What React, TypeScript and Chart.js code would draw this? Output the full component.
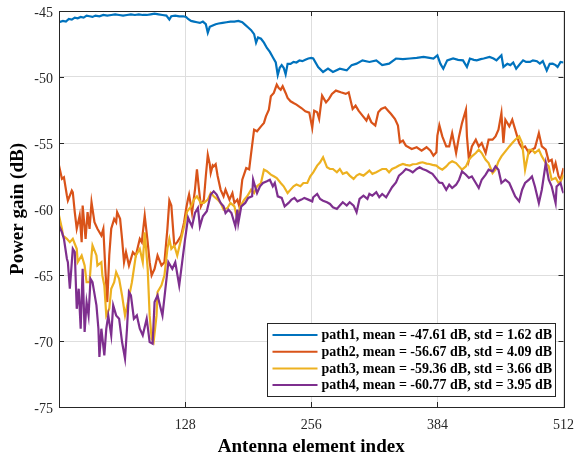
import React, { useEffect, useRef } from "react";
import { Chart, registerables } from "chart.js";

Chart.register(...registerables);

// Antenna element index (x) and measured power gain in dB (y) for each path
const path1Index = [0, 4, 7, 10, 13, 16, 19, 22, 25, 28, 31, 34, 37, 41, 45, 49, 53, 57, 61, 65, 69, 73, 77, 81, 85, 89, 93, 97, 101, 105, 109, 112, 114, 118, 122, 126, 129, 131, 134, 137, 140, 143, 146, 149, 151, 153, 156, 159, 162, 166, 170, 174, 178, 182, 186, 189, 192, 195, 198, 200, 202, 205, 208, 211, 214, 217, 220, 222, 224, 226, 228, 230, 232, 235, 238, 241, 244, 247, 250, 253, 256, 258, 263, 268, 273, 278, 285, 292, 297, 302, 308, 315, 322, 328, 335, 342, 349, 356, 363, 370, 376, 380, 384, 387, 390, 394, 400, 405, 410, 414, 417, 421, 424, 428, 431, 437, 441, 444, 449, 451, 455, 458, 461, 464, 468, 471, 474, 478, 481, 485, 488, 491, 495, 498, 501, 504, 506, 509, 512];
const path1Gain = [-45.85, -45.75, -45.8, -45.6, -45.65, -45.5, -45.55, -45.45, -45.5, -45.35, -45.4, -45.45, -45.35, -45.4, -45.3, -45.35, -45.3, -45.25, -45.3, -45.35, -45.3, -45.25, -45.3, -45.25, -45.3, -45.3, -45.25, -45.2, -45.25, -45.3, -45.35, -45.65, -45.4, -45.35, -45.4, -45.4, -45.45, -45.6, -45.75, -45.8, -45.85, -45.9, -45.8, -46.0, -46.65, -46.2, -46.1, -46.0, -45.95, -45.9, -45.85, -45.8, -45.8, -45.75, -45.85, -46.05, -46.25, -46.45, -46.75, -47.4, -47.0, -47.1, -47.4, -47.8, -48.1, -48.5, -48.9, -49.85, -49.3, -49.1, -49.3, -49.8, -49.0, -49.0, -48.85, -48.9, -48.75, -48.8, -48.7, -48.6, -48.55, -48.6, -49.24, -49.62, -49.37, -49.62, -49.37, -49.5, -49.1, -48.99, -48.74, -48.86, -48.74, -49.1, -48.99, -48.6, -48.65, -48.6, -48.55, -48.48, -48.55, -48.6, -48.36, -48.99, -49.37, -48.74, -48.6, -48.7, -48.74, -49.24, -48.6, -48.7, -48.74, -48.65, -48.6, -48.48, -48.6, -48.74, -48.36, -49.24, -49.0, -49.1, -48.9, -49.37, -49.0, -48.74, -48.86, -48.86, -48.74, -48.8, -48.99, -48.8, -49.5, -49.0, -48.99, -49.1, -49.24, -48.86, -48.9];

const path2Index = [0, 3, 5, 8, 9, 13, 14, 16, 18, 21, 23, 24, 27, 29, 31, 33, 36, 39, 43, 45, 47, 49, 51, 53, 56, 58, 59, 62, 64, 66, 68, 71, 75, 78, 82, 84, 87, 90, 92, 94, 97, 100, 104, 107, 110, 112, 114, 117, 120, 124, 127, 129, 131, 132, 134, 135, 138, 140, 142, 144, 147, 149, 151, 153, 154, 156, 157, 159, 161, 164, 167, 169, 173, 176, 178, 181, 183, 186, 190, 193, 195, 198, 201, 205, 208, 210, 213, 215, 218, 221, 223, 225, 227, 230, 232, 235, 238, 241, 246, 250, 254, 257, 259, 262, 264, 267, 271, 274, 277, 281, 286, 291, 294, 298, 301, 304, 308, 312, 314, 317, 321, 324, 327, 331, 334, 337, 341, 344, 346, 349, 352, 358, 363, 368, 373, 377, 380, 383, 384, 386, 389, 393, 396, 399, 403, 406, 409, 413, 414, 416, 419, 423, 426, 429, 433, 436, 440, 443, 446, 449, 451, 453, 457, 460, 463, 467, 470, 473, 477, 480, 483, 487, 490, 494, 497, 500, 502, 504, 507, 509, 511, 512];
const path2Gain = [-56.71, -57.72, -57.6, -58.98, -59.36, -58.6, -58.73, -60.24, -61.5, -60.5, -62.51, -59.74, -62.26, -60.24, -61.5, -59.49, -61.0, -61.5, -62.01, -61.5, -64.53, -67.05, -63.52, -61.5, -60.75, -61.0, -60.24, -60.75, -62.26, -64.03, -63.27, -64.28, -63.27, -63.52, -62.26, -62.51, -60.5, -62.51, -64.03, -65.03, -64.53, -63.52, -64.28, -64.03, -61.5, -59.36, -59.74, -62.76, -62.51, -62.01, -61.0, -60.0, -59.2, -58.9, -59.8, -60.3, -58.53, -57.0, -58.5, -59.8, -59.3, -57.5, -55.9, -56.6, -57.27, -56.7, -56.77, -56.6, -57.5, -58.53, -59.04, -58.53, -59.3, -58.8, -59.54, -59.29, -59.8, -57.78, -56.9, -57.0, -55.76, -53.99, -54.11, -53.74, -53.48, -52.98, -52.47, -51.46, -51.21, -50.58, -50.83, -50.96, -50.7, -51.21, -51.59, -51.84, -51.97, -52.09, -52.35, -52.6, -52.7, -53.85, -52.55, -52.67, -53.18, -51.41, -51.92, -51.66, -51.28, -51.03, -51.16, -51.28, -51.16, -52.42, -52.17, -52.55, -52.93, -53.3, -52.93, -53.43, -53.68, -52.67, -52.42, -52.29, -52.55, -52.8, -53.18, -53.68, -54.95, -54.82, -55.2, -55.45, -55.32, -55.58, -55.32, -55.58, -55.96, -55.7, -54.44, -53.65, -54.5, -55.26, -55.26, -54.25, -55.76, -54.5, -53.49, -52.48, -54.5, -56.27, -55.26, -54.75, -55.26, -55.0, -55.76, -54.75, -54.75, -54.5, -53.99, -52.73, -55.0, -53.24, -53.74, -53.24, -53.99, -55.0, -55.38, -55.26, -55.76, -55.51, -55.38, -54.25, -55.26, -55.51, -56.39, -56.27, -57.02, -56.52, -57.53, -57.78, -57.2, -56.9];

const path3Index = [0, 3, 4, 8, 11, 14, 18, 19, 23, 26, 28, 31, 33, 34, 38, 39, 43, 44, 46, 48, 51, 53, 56, 58, 61, 64, 67, 70, 74, 76, 78, 82, 85, 87, 90, 92, 94, 96, 99, 100, 104, 107, 110, 112, 114, 117, 120, 124, 127, 130, 134, 137, 140, 144, 147, 151, 154, 157, 161, 164, 167, 171, 174, 178, 181, 184, 188, 191, 195, 198, 201, 205, 208, 211, 215, 218, 221, 225, 228, 232, 235, 238, 241, 245, 248, 252, 255, 258, 262, 265, 268, 272, 275, 278, 282, 285, 288, 292, 295, 299, 302, 305, 309, 313, 315, 318, 322, 325, 328, 332, 335, 338, 342, 345, 349, 352, 356, 359, 363, 366, 369, 373, 376, 379, 383, 386, 389, 393, 396, 399, 403, 406, 409, 413, 416, 419, 423, 426, 429, 433, 436, 440, 443, 446, 449, 453, 457, 460, 463, 467, 470, 473, 477, 480, 483, 487, 490, 494, 497, 500, 504, 507, 509, 511, 512];
const path3Gain = [-60.5, -61.5, -62.01, -62.26, -62.51, -62.26, -63.02, -64.03, -63.52, -64.28, -65.54, -65.54, -63.52, -62.76, -63.52, -64.28, -64.03, -65.03, -65.79, -68.06, -67.56, -66.04, -65.54, -64.78, -65.29, -66.55, -68.06, -67.05, -65.54, -64.53, -63.52, -63.02, -64.03, -61.76, -64.53, -68.06, -69.83, -70.08, -68.06, -66.29, -65.79, -65.03, -63.02, -62.26, -63.02, -62.76, -63.52, -62.26, -61.3, -60.2, -59.8, -59.29, -59.04, -59.54, -59.54, -59.29, -58.79, -59.04, -59.29, -59.54, -60.05, -59.92, -59.54, -59.8, -60.81, -59.8, -59.29, -59.04, -58.53, -58.79, -58.28, -58.03, -57.02, -57.14, -57.4, -57.52, -57.65, -58.03, -58.28, -58.79, -58.53, -58.28, -58.15, -58.28, -58.03, -58.03, -57.52, -57.22, -56.71, -56.46, -56.08, -56.84, -56.97, -56.97, -57.22, -56.97, -57.34, -57.22, -57.47, -57.72, -57.47, -57.34, -57.47, -57.22, -57.09, -57.34, -57.22, -57.09, -56.97, -56.97, -57.22, -56.97, -56.84, -56.71, -56.59, -56.66, -56.71, -56.61, -56.59, -56.51, -56.46, -56.56, -56.59, -56.66, -56.71, -56.9, -57.02, -56.77, -56.52, -56.39, -56.52, -56.77, -57.02, -56.77, -56.27, -56.01, -55.76, -55.51, -55.76, -56.27, -56.52, -57.28, -57.02, -56.39, -56.01, -55.63, -55.26, -55.0, -54.75, -54.5, -55.0, -57.02, -55.51, -55.51, -55.76, -55.51, -56.01, -56.52, -56.77, -57.78, -57.65, -58.03, -57.91, -57.6, -57.4];

const path4Index = [0, 3, 5, 8, 9, 11, 13, 14, 16, 18, 20, 22, 24, 26, 28, 30, 32, 34, 38, 40, 41, 43, 46, 48, 50, 53, 55, 58, 61, 64, 67, 69, 71, 73, 76, 79, 82, 85, 89, 92, 95, 97, 100, 105, 108, 111, 115, 118, 122, 125, 128, 131, 133, 135, 138, 141, 143, 146, 150, 154, 157, 160, 164, 167, 169, 172, 175, 179, 181, 182, 185, 189, 192, 196, 197, 201, 204, 207, 211, 214, 217, 219, 222, 226, 229, 233, 236, 239, 242, 246, 249, 253, 257, 258, 262, 265, 268, 272, 275, 278, 282, 285, 288, 292, 295, 299, 302, 305, 309, 313, 315, 318, 322, 325, 328, 332, 335, 338, 342, 345, 349, 352, 356, 359, 363, 366, 369, 373, 376, 379, 383, 386, 389, 393, 396, 399, 403, 406, 409, 413, 416, 419, 423, 426, 429, 433, 436, 440, 443, 446, 449, 453, 457, 460, 463, 467, 470, 473, 477, 480, 483, 487, 490, 494, 497, 500, 504, 505, 509, 511, 512];
const path4Gain = [-61.25, -61.76, -62.26, -63.77, -64.03, -66.04, -64.03, -63.02, -63.27, -67.56, -66.04, -69.07, -64.53, -69.32, -67.05, -68.06, -65.29, -65.54, -67.3, -69.07, -71.21, -69.07, -71.09, -69.07, -68.06, -69.57, -67.3, -68.06, -68.31, -70.08, -71.34, -69.07, -66.29, -66.55, -68.31, -68.06, -69.07, -69.57, -68.31, -70.08, -70.2, -67.05, -66.55, -68.06, -66.04, -64.03, -64.53, -64.03, -65.79, -64.03, -62.26, -60.65, -61.0, -61.31, -60.3, -59.92, -61.31, -60.55, -60.17, -58.91, -58.66, -58.91, -59.54, -59.8, -60.3, -60.05, -60.3, -61.31, -60.05, -61.06, -59.8, -59.54, -59.16, -59.04, -57.78, -58.79, -58.28, -58.03, -57.9, -57.78, -58.28, -58.03, -59.04, -59.16, -59.8, -59.54, -59.29, -59.16, -59.42, -59.29, -59.16, -59.29, -59.42, -59.11, -58.86, -59.24, -59.37, -59.49, -59.62, -59.87, -60.0, -59.74, -59.49, -59.74, -59.49, -59.74, -60.25, -59.24, -58.99, -59.24, -58.86, -58.99, -58.73, -59.11, -58.86, -59.11, -58.73, -58.35, -57.98, -57.47, -57.22, -56.97, -57.09, -57.22, -56.97, -56.84, -56.97, -57.09, -57.22, -57.34, -57.72, -58.0, -58.03, -58.54, -58.16, -58.41, -58.16, -57.78, -57.15, -57.4, -57.65, -57.53, -58.03, -58.41, -57.78, -57.4, -57.02, -57.15, -56.77, -57.02, -58.03, -57.78, -58.03, -58.54, -59.04, -59.42, -58.54, -58.03, -57.78, -57.53, -58.29, -59.55, -58.54, -56.52, -57.78, -58.29, -59.55, -58.29, -58.03, -58.6, -58.8];

const seriesLabels = [
  "path1, mean = -47.61 dB, std = 1.62 dB",
  "path2, mean = -56.67 dB, std = 4.09 dB",
  "path3, mean = -59.36 dB, std = 3.66 dB",
  "path4, mean = -60.77 dB, std = 3.95 dB",
];
const seriesColors = ["#0072BD", "#D95319", "#EDB120", "#7E2F8E"];

const xTicks = [128, 256, 384, 512];
const xMin = 0;
const xMax = 512;
const yMin = -75;
const yMax = -45;
const yStep = 5;

const SERIF = '"Liberation Serif", "Times New Roman", Times, serif';
const AXIS_COLOR = "#262626";
const GRID_COLOR = "#dedede";

const toPoints = (xs: number[], ys: number[]) => xs.map((x, i) => ({ x, y: ys[i] }));

// Draws the axes box with inward tick marks, then the boxed legend in the lower right
const framePlugin = {
  id: "frameAndLegend",
  afterDatasetsDraw(chart: any) {
    const { ctx, chartArea } = chart;
    const { left, right, top, bottom } = chartArea;
    const xs = chart.scales.x;
    const ys = chart.scales.y;
    const tickLen = 5;
    ctx.save();
    ctx.strokeStyle = AXIS_COLOR;
    ctx.lineWidth = 1;
    ctx.beginPath();
    xTicks.forEach((v) => {
      if (v <= xMin || v >= xMax) return;
      const px = Math.round(xs.getPixelForValue(v)) + 0.5;
      ctx.moveTo(px, bottom);
      ctx.lineTo(px, bottom - tickLen);
      ctx.moveTo(px, top);
      ctx.lineTo(px, top + tickLen);
    });
    for (let v = yMin + yStep; v < yMax; v += yStep) {
      const py = Math.round(ys.getPixelForValue(v)) + 0.5;
      ctx.moveTo(left, py);
      ctx.lineTo(left + tickLen, py);
      ctx.moveTo(right, py);
      ctx.lineTo(right - tickLen, py);
    }
    ctx.stroke();
    ctx.strokeRect(Math.round(left) + 0.5, Math.round(top) + 0.5, Math.round(right - left), Math.round(bottom - top));

    // legend
    const boxW = 288;
    const boxH = 73;
    const bx = Math.round(right - 9 - boxW) + 0.5;
    const by = Math.round(bottom - 11 - boxH) + 0.5;
    ctx.fillStyle = "#ffffff";
    ctx.fillRect(bx, by, boxW, boxH);
    ctx.strokeStyle = AXIS_COLOR;
    ctx.lineWidth = 1;
    ctx.strokeRect(bx, by, boxW, boxH);
    ctx.font = `bold 14px ${SERIF}`;
    ctx.textBaseline = "middle";
    ctx.textAlign = "left";
    seriesLabels.forEach((label, i) => {
      const ry = by + 11.5 + i * 16.7;
      ctx.strokeStyle = seriesColors[i];
      ctx.lineWidth = 2;
      ctx.beginPath();
      ctx.moveTo(bx + 5, ry);
      ctx.lineTo(bx + 50, ry);
      ctx.stroke();
      ctx.fillStyle = "#000000";
      ctx.fillText(label, bx + 54, ry + 0.5);
    });
    ctx.restore();
  },
};

export default function App() {
  const canvasRef = useRef<HTMLCanvasElement | null>(null);

  useEffect(() => {
    const canvas = canvasRef.current;
    if (!canvas) return;
    const series = [
      toPoints(path1Index, path1Gain),
      toPoints(path2Index, path2Gain),
      toPoints(path3Index, path3Gain),
      toPoints(path4Index, path4Gain),
    ];
    const chart = new Chart(canvas, {
      type: "line",
      data: {
        datasets: series.map((data, i) => ({
          label: seriesLabels[i],
          data,
          borderColor: seriesColors[i],
          backgroundColor: seriesColors[i],
          borderWidth: 2.2,
          pointRadius: 0,
          tension: 0,
          fill: false,
          order: 4 - i,
        })),
      },
      options: {
        animation: false,
        responsive: false,
        devicePixelRatio: 1,
        layout: { padding: { top: 11, right: 12.5, left: 0, bottom: 0 } },
        plugins: {
          legend: { display: false },
          tooltip: { enabled: false },
        },
        scales: {
          x: {
            type: "linear",
            min: xMin,
            max: xMax,
            afterBuildTicks: (axis: any) => {
              axis.ticks = xTicks.map((value) => ({ value }));
            },
            afterFit: (axis: any) => {
              axis.height = 50;
              axis.paddingLeft = 0;
              axis.paddingRight = 0;
            },
            grid: { color: GRID_COLOR, drawTicks: false, lineWidth: 1 },
            border: { display: false },
            ticks: {
              color: AXIS_COLOR,
              padding: 10,
              maxRotation: 0,
              font: { family: SERIF, size: 14 },
            },
            title: {
              display: true,
              text: "Antenna element index",
              color: "#000000",
              padding: { top: 0, bottom: 0 },
              font: { family: SERIF, size: 19, weight: "bold", lineHeight: 1.05 },
            },
          },
          y: {
            type: "linear",
            min: yMin,
            max: yMax,
            afterFit: (axis: any) => {
              axis.width = 59;
              axis.paddingTop = 0;
              axis.paddingBottom = 0;
            },
            grid: { color: GRID_COLOR, drawTicks: false, lineWidth: 1 },
            border: { display: false },
            ticks: {
              stepSize: yStep,
              color: AXIS_COLOR,
              padding: 6,
              labelOffset: 2.5,
              font: { family: SERIF, size: 14 },
            },
            title: {
              display: true,
              text: "Power gain (dB)",
              color: "#000000",
              padding: { top: 7, bottom: 0 },
              font: { family: SERIF, size: 19, weight: "bold", lineHeight: 1.2 },
            },
          },
        },
      },
      plugins: [framePlugin],
    } as any);
    return () => chart.destroy();
  }, []);

  return (
    <div style={{ position: "fixed", left: 0, top: 0, width: 576, height: 457, background: "#ffffff" }}>
      <canvas ref={canvasRef} width={576} height={457} />
    </div>
  );
}
